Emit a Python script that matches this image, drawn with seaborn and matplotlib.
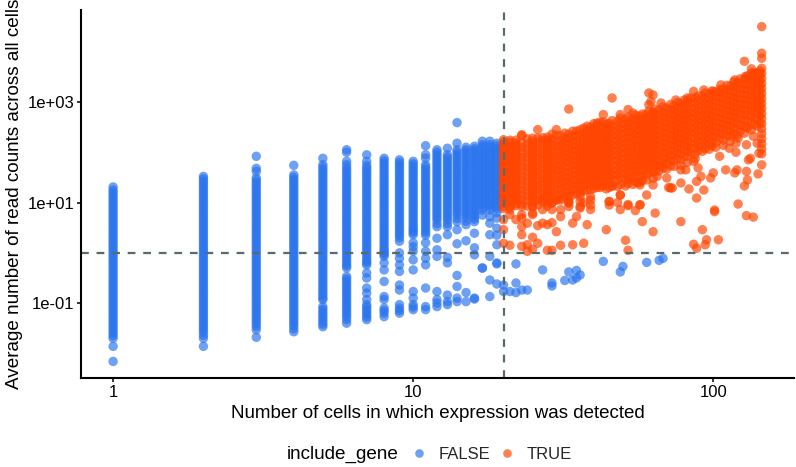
#!/usr/bin/env python3
"""Gene filtering scatter: detection count vs average read count."""

import matplotlib

matplotlib.use("Agg")
import matplotlib.pyplot as plt
import numpy as np
import pandas as pd
import seaborn as sns

# y values are log10(average counts)
false_1 = [1.31, 1.25, 1.2, 1.15, 1.1, 1.05, 1.0, .95, .9, .85, .8, .75, .7, .65, .6, .55, .5, .45, .4, .35, .3, .25, .2, .15, .1, .05, 0, -.05, -.1, -.15, -.2, -.25, -.3, -.35, -.4, -.45, -.5, -.55, -.6, -.65, -.7, -.75, -.8, -.85, -.9, -.95, -1.0, -1.05, -1.1, -1.15, -1.2, -1.25, -1.3, -1.35, -1.4, -1.45, -1.5, -1.55, -1.6, -1.65, -1.7, -1.86, -2.16]
false_2 = [1.52, 1.47, 1.42, 1.37, 1.32, 1.27, 1.22, 1.17, 1.12, 1.07, 1.02, .97, .92, .87, .82, .77, .72, .67, .62, .57, .52, .47, .42, .37, .32, .27, .22, .17, .12, .07, .02, -.03, -.08, -.13, -.18, -.23, -.28, -.33, -.38, -.43, -.48, -.53, -.58, -.63, -.68, -.73, -.78, -.83, -.88, -.93, -.98, -1.03, -1.08, -1.13, -1.18, -1.23, -1.28, -1.33, -1.38, -1.43, -1.48, -1.53, -1.58, -1.64, -1.7, -1.86]
false_3 = [1.92, 1.68, 1.62, 1.49, 1.44, 1.39, 1.34, 1.29, 1.24, 1.19, 1.14, 1.09, 1.04, .99, .94, .89, .84, .79, .74, .69, .64, .59, .54, .49, .44, .39, .34, .29, .24, .19, .14, .09, .04, -.01, -.06, -.11, -.16, -.21, -.26, -.31, -.36, -.41, -.46, -.51, -.56, -.61, -.66, -.71, -.76, -.81, -.86, -.91, -.96, -1.01, -1.06, -1.11, -1.16, -1.21, -1.26, -1.31, -1.36, -1.41, -1.47, -1.53, -1.68]
false_4 = [1.74, 1.55, 1.5, 1.45, 1.4, 1.35, 1.3, 1.25, 1.2, 1.15, 1.1, 1.05, 1.0, .95, .9, .85, .8, .75, .7, .65, .6, .55, .5, .45, .4, .35, .3, .25, .2, .15, .1, .05, 0, -.05, -.1, -.15, -.2, -.25, -.3, -.35, -.4, -.45, -.5, -.55, -.6, -.65, -.7, -.75, -.8, -.85, -.9, -.95, -1.0, -1.05, -1.1, -1.15, -1.2, -1.25, -1.3, -1.35, -1.4, -1.45, -1.51, -1.57]
false_5 = [1.88, 1.75, 1.7, 1.65, 1.6, 1.55, 1.5, 1.45, 1.4, 1.35, 1.3, 1.25, 1.2, 1.15, 1.1, 1.05, 1.0, .95, .9, .85, .8, .75, .7, .65, .6, .55, .5, .45, .4, .35, .3, .25, .2, .15, .1, .05, 0, -.05, -.1, -.15, -.2, -.25, -.3, -.35, -.4, -.45, -.5, -.55, -.6, -.65, -.7, -.75, -.8, -.85, -.9, -.93, -1.07, -1.12, -1.17, -1.22, -1.27, -1.32, -1.37, -1.42, -1.47]
false_6 = [2.05, 2.0, 1.82, 1.75, 1.69, 1.64, 1.59, 1.54, 1.49, 1.44, 1.39, 1.34, 1.29, 1.24, 1.19, 1.14, 1.09, 1.04, .99, .94, .89, .84, .79, .74, .69, .64, .59, .54, .49, .44, .39, .34, .29, .24, .19, .14, .09, .04, -.01, -.06, -.11, -.16, -.21, -.26, -.3, -.47, -.52, -.57, -.62, -.67, -.72, -.77, -.82, -.87, -.92, -.97, -1.02, -1.07, -1.12, -1.17, -1.22, -1.27, -1.33, -1.4]
false_7 = [1.95, 1.82, 1.74, 1.69, 1.64, 1.59, 1.54, 1.49, 1.44, 1.39, 1.34, 1.29, 1.24, 1.19, 1.14, 1.09, 1.04, .99, .94, .89, .84, .79, .74, .69, .64, .59, .54, .49, .44, .39, .34, .29, .24, .19, .14, .09, .04, -.01, -.06, -.11, -.16, -.2, -.24, -.4, -.5, -.7, -.8, -.93, -1.03, -1.08, -1.13, -1.18, -1.23, -1.28, -1.33]
false_8 = [1.88, 1.83, 1.78, 1.73, 1.68, 1.63, 1.58, 1.53, 1.48, 1.43, 1.38, 1.33, 1.28, 1.23, 1.18, 1.13, 1.08, 1.03, .98, .93, .88, .83, .78, .73, .68, .63, .58, .53, .48, .43, .38, .33, .28, .23, .18, .13, .08, .04, 0, -.03, -.07, -.2, -.34, -.57, -.87, -.93, -1.1, -1.15, -1.2, -1.27]
false_9 = [1.85, 1.8, 1.75, 1.7, 1.65, 1.6, 1.55, 1.5, 1.45, 1.4, 1.35, 1.3, 1.25, 1.2, 1.15, 1.1, 1.05, 1.0, .95, .9, .85, .8, .75, .7, .65, .6, .55, .5, .45, .4, .35, .3, .23, 0, -.11, -.24, -.37, -.64, -.74, -1.03, -1.1, -1.15, -1.2]
false_10 = [1.82, 1.77, 1.72, 1.67, 1.62, 1.57, 1.52, 1.47, 1.42, 1.37, 1.32, 1.27, 1.22, 1.17, 1.12, 1.07, 1.02, .97, .92, .87, .82, .77, .72, .67, .62, .57, .52, .48, .44, .4, .36, .2, .12, .03, -.14, -.34, -.77, -.9, -1.03, -1.08, -1.13]
false_11 = [2.13, 1.95, 1.88, 1.75, 1.7, 1.65, 1.6, 1.55, 1.5, 1.45, 1.4, 1.35, 1.3, 1.25, 1.2, 1.15, 1.1, 1.05, 1.0, .95, .9, .85, .8, .75, .7, .65, .6, .55, .5, .45, .4, .35, .2, .03, -.11, -.24, -.7, -1.07, -1.13]
false_12 = [2.05, 2.0, 1.95, 1.9, 1.85, 1.8, 1.75, 1.7, 1.65, 1.6, 1.55, 1.5, 1.45, 1.4, 1.35, 1.3, 1.25, 1.2, 1.15, 1.1, 1.05, 1.0, .95, .9, .85, .8, .75, .7, .65, .58, .52, .29, .06, -.07, -.77, -.93, -1.0, -1.07]
false_13 = [2.08, 1.95, 1.9, 1.85, 1.8, 1.75, 1.7, 1.65, 1.6, 1.55, 1.5, 1.45, 1.4, 1.35, 1.3, 1.25, 1.2, 1.15, 1.1, 1.05, 1.0, .95, .9, .85, .8, .75, .7, .65, .58, .52, .36, -.09, -.2, -.84, -.97, -1.03]
false_14 = [2.59, 2.18, 2.05, 2.0, 1.95, 1.9, 1.85, 1.8, 1.75, 1.7, 1.65, 1.6, 1.55, 1.5, 1.45, 1.4, 1.35, 1.3, 1.25, 1.2, 1.15, 1.1, 1.05, 1.0, .95, .9, .85, .8, .75, .68, .62, .46, .18, -.45, -.67, -.9, -.97]
false_15 = [2.1, 2.05, 2.0, 1.95, 1.9, 1.85, 1.8, 1.75, 1.7, 1.65, 1.6, 1.55, 1.5, 1.45, 1.4, 1.35, 1.3, 1.25, 1.2, 1.15, 1.1, 1.05, 1.0, .95, .9, .85, .8, .75, .7, .63, .56, .24, -.79, -.97]
false_16 = [2.12, 2.07, 2.02, 1.97, 1.92, 1.87, 1.82, 1.77, 1.72, 1.67, 1.62, 1.57, 1.52, 1.47, 1.42, 1.37, 1.32, 1.27, 1.22, 1.17, 1.12, 1.07, 1.02, .97, .92, .87, .82, .77, .72, .67, .62, .39, .1, -.04, -.9, -.92]
false_17 = [2.22, 2.15, 2.1, 2.05, 2.0, 1.95, 1.9, 1.85, 1.8, 1.75, 1.7, 1.65, 1.6, 1.55, 1.5, 1.45, 1.4, 1.35, 1.3, 1.25, 1.2, 1.15, 1.1, 1.05, 1.0, .95, .9, .85, .75, -.3, -.305]
false_18 = [2.22, 2.15, 2.1, 2.05, 2.0, 1.95, 1.9, 1.85, 1.8, 1.75, 1.7, 1.65, 1.6, 1.55, 1.5, 1.45, 1.4, 1.35, 1.3, 1.25, 1.2, 1.15, 1.1, 1.05, 1.0, .95, .9, .85, .72, .59, .36, -.07, -.54, -.87]
false_19 = [2.18, 2.13, 2.08, 2.03, 1.98, 1.93, 1.88, 1.83, 1.78, 1.73, 1.68, 1.63, 1.58, 1.53, 1.48, 1.43, 1.38, 1.33, 1.28, 1.23, 1.18, 1.13, 1.08, 1.03, .98, .93, .88, .8, .69, .49, .35, .16, -.2, -.22, -.62]
false_cols = [false_1, false_2, false_3, false_4, false_5, false_6, false_7, false_8, false_9, false_10, false_11, false_12, false_13, false_14, false_15, false_16, false_17, false_18, false_19]

# low-abundance genes detected in 20+ cells
false_low_x = [20, 20, 21, 22, 22, 22, 23, 24, 27, 29, 29, 32, 33, 34, 35, 35, 36, 43, 49, 50, 60, 66, 68]
false_low_y = [-.64, -.77, -.77, -.22, -.6, -.79, -.74, -.74, -.34, -.6, -.66, -.55, -.38, -.54, -.35, -.5, -.44, -.17, -.38, -.27, -.19, -.15, -.11]

# dense band of kept genes
true_x = [20, 21, 22, 23, 25, 26, 28, 29, 31, 33, 35, 37, 39, 41, 43, 45, 48, 51, 54, 57, 60, 63, 66, 70, 74, 78, 82, 87, 92, 97, 102, 108, 114, 120, 127, 134, 140, 145]
true_y = [
    [2.25, 2.16, 2.07, 1.98, 1.88, 1.8, 1.7, 1.62, 1.52, 1.43, 1.34, 1.25, 1.16, 1.07, .98, .88],
    [2.2, 2.1, 2.02, 1.92, 1.83, 1.74, 1.65, 1.55, 1.46, 1.37, 1.28, 1.18, 1.08, 1.0],
    [2.24, 2.14, 2.05, 1.96, 1.86, 1.76, 1.68, 1.58, 1.5, 1.4, 1.3, 1.21, 1.12, 1.03, .94],
    [2.33, 2.18, 2.1, 2.0, 1.9, 1.82, 1.72, 1.63, 1.53, 1.44, 1.35, 1.25, 1.16, 1.06, .97],
    [2.22, 2.12, 2.03, 1.94, 1.84, 1.75, 1.66, 1.56, 1.47, 1.38, 1.28, 1.19, 1.1, 1.0],
    [2.28, 2.19, 2.09, 2.0, 1.9, 1.81, 1.72, 1.62, 1.53, 1.43, 1.34, 1.25, 1.15, 1.05, .95],
    [2.3, 2.2, 2.11, 2.02, 1.93, 1.84, 1.74, 1.65, 1.55, 1.46, 1.37, 1.27, 1.18, 1.08, .98],
    [2.36, 2.26, 2.16, 2.07, 1.97, 1.88, 1.78, 1.68, 1.59, 1.49, 1.4, 1.3, 1.2, 1.1, 1.0],
    [2.33, 2.23, 2.14, 2.04, 1.95, 1.85, 1.75, 1.66, 1.56, 1.47, 1.38, 1.28, 1.18, 1.08],
    [2.36, 2.27, 2.17, 2.08, 1.98, 1.89, 1.8, 1.7, 1.6, 1.5, 1.41, 1.32, 1.22, 1.13],
    [2.42, 2.32, 2.23, 2.13, 2.03, 1.94, 1.84, 1.75, 1.65, 1.55, 1.46, 1.36, 1.27, 1.18],
    [2.48, 2.38, 2.28, 2.19, 2.09, 2.0, 1.9, 1.8, 1.71, 1.61, 1.52, 1.42, 1.33, 1.23],
    [2.5, 2.4, 2.31, 2.21, 2.12, 2.02, 1.92, 1.83, 1.73, 1.63, 1.54, 1.44, 1.35, 1.26],
    [2.54, 2.44, 2.35, 2.25, 2.15, 2.06, 1.96, 1.87, 1.77, 1.67, 1.58, 1.48, 1.39, 1.3],
    [2.6, 2.5, 2.4, 2.3, 2.2, 2.1, 2.0, 1.91, 1.81, 1.72, 1.62, 1.52, 1.43, 1.33],
    [2.58, 2.48, 2.39, 2.29, 2.19, 2.09, 2.0, 1.9, 1.8, 1.7, 1.61, 1.51, 1.42, 1.3],
    [2.62, 2.52, 2.42, 2.33, 2.23, 2.13, 2.03, 1.94, 1.84, 1.74, 1.64, 1.55, 1.45, 1.32],
    [2.66, 2.56, 2.47, 2.37, 2.27, 2.17, 2.08, 1.98, 1.88, 1.78, 1.68, 1.58, 1.46, 1.33],
    [2.67, 2.58, 2.48, 2.38, 2.28, 2.19, 2.09, 1.99, 1.89, 1.79, 1.7, 1.6, 1.5, 1.36],
    [2.72, 2.62, 2.53, 2.43, 2.33, 2.23, 2.13, 2.03, 1.93, 1.83, 1.73, 1.63, 1.53, 1.4],
    [2.76, 2.66, 2.56, 2.46, 2.36, 2.26, 2.16, 2.06, 1.96, 1.86, 1.76, 1.66, 1.56, 1.45],
    [2.8, 2.7, 2.6, 2.5, 2.4, 2.3, 2.2, 2.1, 2.0, 1.9, 1.8, 1.7, 1.6, 1.48],
    [2.84, 2.74, 2.64, 2.54, 2.44, 2.34, 2.24, 2.14, 2.04, 1.94, 1.84, 1.74, 1.63],
    [2.88, 2.78, 2.68, 2.58, 2.48, 2.38, 2.28, 2.18, 2.08, 1.98, 1.88, 1.78, 1.67],
    [2.93, 2.83, 2.73, 2.63, 2.53, 2.43, 2.33, 2.23, 2.13, 2.03, 1.93, 1.83, 1.72],
    [2.97, 2.87, 2.77, 2.67, 2.57, 2.47, 2.37, 2.27, 2.17, 2.07, 1.97, 1.85, 1.74],
    [3.02, 2.92, 2.82, 2.72, 2.62, 2.52, 2.42, 2.32, 2.22, 2.12, 2.02, 1.92, 1.8],
    [3.08, 2.98, 2.88, 2.78, 2.68, 2.58, 2.48, 2.38, 2.28, 2.18, 2.08, 1.96, 1.87],
    [3.12, 3.02, 2.92, 2.82, 2.72, 2.62, 2.52, 2.42, 2.32, 2.22, 2.12, 2.02],
    [3.16, 3.06, 2.96, 2.86, 2.76, 2.66, 2.56, 2.46, 2.36, 2.26, 2.16, 2.06],
    [3.2, 3.1, 3.0, 2.9, 2.8, 2.7, 2.6, 2.5, 2.4, 2.3, 2.2, 2.1],
    [3.26, 3.16, 3.06, 2.96, 2.86, 2.76, 2.66, 2.56, 2.46, 2.36, 2.24, 2.14],
    [3.32, 3.22, 3.12, 3.02, 2.92, 2.82, 2.72, 2.62, 2.52, 2.42, 2.32],
    [3.38, 3.28, 3.18, 3.08, 2.98, 2.88, 2.78, 2.68, 2.58, 2.46, 2.34],
    [3.45, 3.35, 3.25, 3.15, 3.05, 2.95, 2.85, 2.75, 2.65, 2.52, 2.38],
    [3.52, 3.42, 3.32, 3.22, 3.12, 3.02, 2.92, 2.82, 2.72, 2.6, 2.45],
    [3.58, 3.48, 3.38, 3.28, 3.18, 3.08, 2.98, 2.88, 2.78, 2.66, 2.52],
    [3.67, 3.57, 3.47, 3.37, 3.27, 3.17, 3.07, 2.97, 2.87, 2.77, 2.67, 2.57, 2.47, 2.37, 2.27, 2.17, 2.07, 1.97],
]

# more kept genes between those columns, filling the band
true_x2 = [20, 21, 22, 24, 25, 27, 28, 30, 32, 34, 36, 38, 40, 42, 44, 46, 49, 52, 55, 58, 61, 64, 68, 72, 76, 80, 84, 89, 94, 99, 105, 111, 117, 123, 130, 137, 143]
true_y2 = [
    [2.2, 2.11, 2.02, 1.93, 1.84, 1.75, 1.66, 1.57, 1.48, 1.38, 1.29, 1.2, 1.11, 1.02],
    [2.24, 2.15, 2.06, 1.97, 1.87, 1.78, 1.69, 1.6, 1.5, 1.41, 1.32, 1.23, 1.13, 1.04, .92],
    [2.19, 2.09, 2.0, 1.91, 1.81, 1.72, 1.63, 1.54, 1.45, 1.35, 1.26, 1.16, 1.07, .98],
    [2.27, 2.17, 2.07, 1.98, 1.89, 1.79, 1.7, 1.61, 1.51, 1.42, 1.32, 1.23, 1.13, 1.04, .93],
    [2.28, 2.17, 2.08, 1.98, 1.89, 1.8, 1.7, 1.61, 1.52, 1.42, 1.33, 1.23, 1.14, 1.05, .92],
    [2.29, 2.23, 2.14, 2.05, 1.95, 1.86, 1.76, 1.67, 1.57, 1.48, 1.39, 1.29, 1.2, 1.1, 1.01],
    [2.25, 2.15, 2.06, 1.97, 1.88, 1.79, 1.69, 1.6, 1.5, 1.41, 1.32, 1.22, 1.13, 1.03, .93],
    [2.34, 2.21, 2.12, 2.02, 1.92, 1.83, 1.73, 1.64, 1.54, 1.44, 1.35, 1.25, 1.15, 1.05],
    [2.38, 2.28, 2.19, 2.09, 2.0, 1.9, 1.81, 1.71, 1.61, 1.52, 1.42, 1.33, 1.23, 1.13],
    [2.42, 2.32, 2.22, 2.13, 2.03, 1.93, 1.84, 1.74, 1.65, 1.55, 1.45, 1.36, 1.26, 1.15],
    [2.45, 2.35, 2.26, 2.16, 2.06, 1.96, 1.87, 1.77, 1.67, 1.58, 1.48, 1.38, 1.29, 1.18],
    [2.52, 2.43, 2.33, 2.23, 2.14, 2.04, 1.94, 1.85, 1.75, 1.65, 1.56, 1.46, 1.37, 1.25],
    [2.57, 2.46, 2.36, 2.26, 2.17, 2.07, 1.97, 1.88, 1.78, 1.68, 1.59, 1.49, 1.39, 1.28],
    [2.6, 2.49, 2.39, 2.3, 2.2, 2.1, 2.0, 1.91, 1.81, 1.71, 1.62, 1.52, 1.42, 1.3],
    [2.56, 2.45, 2.35, 2.25, 2.15, 2.05, 1.95, 1.86, 1.76, 1.67, 1.57, 1.47, 1.38, 1.27],
    [2.63, 2.53, 2.43, 2.34, 2.24, 2.14, 2.04, 1.94, 1.85, 1.75, 1.65, 1.55, 1.46, 1.34],
    [2.68, 2.57, 2.47, 2.37, 2.27, 2.18, 2.08, 1.98, 1.88, 1.78, 1.69, 1.59, 1.49, 1.36],
    [2.7, 2.61, 2.51, 2.41, 2.31, 2.21, 2.11, 2.01, 1.92, 1.82, 1.72, 1.62, 1.52, 1.38],
    [2.74, 2.64, 2.54, 2.44, 2.34, 2.24, 2.14, 2.04, 1.94, 1.85, 1.75, 1.65, 1.55, 1.42],
    [2.76, 2.67, 2.57, 2.47, 2.37, 2.27, 2.17, 2.07, 1.97, 1.87, 1.77, 1.67, 1.55, 1.44],
    [2.82, 2.71, 2.61, 2.51, 2.41, 2.31, 2.21, 2.11, 2.01, 1.91, 1.81, 1.71, 1.59],
    [2.86, 2.75, 2.65, 2.55, 2.45, 2.35, 2.25, 2.15, 2.05, 1.95, 1.85, 1.75, 1.62],
    [2.9, 2.8, 2.7, 2.6, 2.5, 2.4, 2.3, 2.2, 2.1, 2.0, 1.9, 1.79, 1.68],
    [2.95, 2.85, 2.75, 2.65, 2.55, 2.45, 2.35, 2.25, 2.15, 2.05, 1.95, 1.84, 1.73],
    [2.99, 2.89, 2.79, 2.69, 2.59, 2.49, 2.39, 2.29, 2.19, 2.09, 1.99, 1.88],
    [3.04, 2.94, 2.84, 2.74, 2.64, 2.54, 2.44, 2.34, 2.24, 2.14, 2.04, 1.92],
    [3.08, 2.98, 2.88, 2.78, 2.68, 2.58, 2.48, 2.38, 2.28, 2.18, 2.08, 1.98],
    [3.12, 3.03, 2.93, 2.83, 2.73, 2.63, 2.53, 2.43, 2.33, 2.23, 2.13, 2.03],
    [3.18, 3.07, 2.97, 2.87, 2.77, 2.67, 2.57, 2.47, 2.37, 2.27, 2.17, 2.07],
    [3.22, 3.12, 3.02, 2.92, 2.82, 2.72, 2.62, 2.52, 2.42, 2.32, 2.22, 2.12],
    [3.25, 3.18, 3.08, 2.98, 2.88, 2.78, 2.68, 2.58, 2.48, 2.38, 2.28],
    [3.33, 3.23, 3.13, 3.03, 2.93, 2.83, 2.73, 2.63, 2.53, 2.43, 2.33],
    [3.4, 3.3, 3.2, 3.1, 3.0, 2.9, 2.8, 2.7, 2.6, 2.48, 2.36],
    [3.46, 3.36, 3.26, 3.16, 3.06, 2.96, 2.86, 2.76, 2.66, 2.54, 2.42],
    [3.52, 3.44, 3.34, 3.24, 3.14, 3.04, 2.94, 2.84, 2.74, 2.62, 2.48],
    [3.58, 3.5, 3.4, 3.3, 3.2, 3.1, 3.0, 2.9, 2.8, 2.68, 2.55],
    [3.62, 3.54, 3.44, 3.34, 3.24, 3.14, 3.04, 2.94, 2.84, 2.72, 2.58],
]

# isolated kept genes outside the band
true_out_x = [33, 46, 43, 26, 61, 63, 62, 61, 86, 93, 106, 127, 134, 145, 145, 145, 52, 54, 67, 75,
              133, 131, 145, 141, 129, 120, 118, 130, 127, 121, 110, 100, 98, 89, 91, 88, 93, 83, 88, 78, 71, 72, 129, 119, 101,
              101, 129, 136, 78, 64, 58, 63, 55, 57, 52, 49, 49, 45, 45, 48, 44, 51, 52, 92, 95, 94, 86, 88, 104,
              38, 34, 35, 36, 39, 37, 39, 30, 37, 34, 31, 26, 25, 23, 23, 23, 21, 23, 24, 24, 25, 28, 29,
              31, 29, 28, 27, 26, 24, 22, 20, 20, 20, 21, 25, 27, 29, 33, 36]
true_out_y = [2.86, 3.08, 2.75, 2.45, 3.18, 3.14, 3.01, 2.95, 3.21, 3.24, 3.34, 3.81, 3.66, 4.5, 3.97, 3.87, 2.85, 2.78, 2.98, 3.04,
              1.88, 1.85, 1.75, 1.57, 1.62, 1.65, 1.59, 1.45, 1.33, .97, 1.65, 1.59, 1.49, 1.69, 1.52, 1.42, 1.25, 1.27, 1.09, 1.39, 1.3, 1.29, 2.15, 2.0, .85,
              .82, .74, .71, .62, .79, .62, .42, .84, .95, .94, .86, 1.15, 1.02, .95, 1.0, .46, .25, .05, .46, .26, .16, .17, .09, .26,
              .56, .59, .72, .89, .86, 1.0, .95, .42, .19, .16, .15, .19, .31, .36, .52, .69, .15, .13, .16, .03, .07, .05, .05,
              .72, .6, .56, .59, .54, .59, .66, .46, .19, .66, .76, .79, .86, .86, 1.0, 1.12]

# genes along the rough edges of the band
true_edge_x = [70, 73, 63, 60, 57, 56, 52, 49, 46, 44, 41, 39, 36, 33, 30, 28, 52, 57, 45, 65, 67, 78, 81, 86, 105, 113, 114, 119, 121, 129, 136, 140, 142,
               23, 30, 41, 49, 63, 82, 100, 118, 128, 134,
               20, 21, 23, 25, 27, 29, 31, 33, 36, 39, 31, 23, 25, 21, 22, 33, 36]
true_edge_y = [1.49, 1.29, 1.35, 1.15, 1.35, 1.39, 1.45, 1.15, 1.32, 1.35, 1.35, 1.12, 1.32, .99, 1.05, 1.09, .96, .96, 1.02, 1.52, 1.72, 1.65, 1.65, 1.82, 1.92, 2.08, 2.22, 2.18, 2.28, 2.51, 2.32, 2.18, 1.98,
               2.35, 2.45, 2.58, 2.75, 2.78, 3.08, 3.21, 3.44, 3.51, 3.58,
               .92, .92, .92, .92, 1.05, .99, 1.05, .92, .92, 1.05, .86, .76, .76, .86, 1.05, 1.05, 1.02]

threshold_cells = 20
threshold_counts = 1

x_false, y_false = [], []
for cells, col in enumerate(false_cols, start=1):
    x_false += [cells] * len(col)
    y_false += col
x_false += false_low_x
y_false += false_low_y

x_true, y_true = [], []
for cells, col in zip(true_x + true_x2, true_y + true_y2):
    x_true += [cells] * len(col)
    y_true += col
x_true += true_out_x + true_edge_x
y_true += true_out_y + true_edge_y

df = pd.DataFrame({
    "cells": x_false + x_true,
    "avg_counts": 10.0 ** np.array(y_false + y_true),
    "include_gene": ["FALSE"] * len(x_false) + ["TRUE"] * len(x_true),
})

sns.set_theme(style="ticks")
plt.rcParams["font.family"] = ["Liberation Sans", "DejaVu Sans"]

fig = plt.figure(figsize=(7.96, 4.67), dpi=100)
ax = fig.add_axes([81 / 796, 1 - 378 / 467, (794 - 81) / 796, (378 - 10) / 467])

sns.scatterplot(
    data=df, x="cells", y="avg_counts", hue="include_gene",
    hue_order=["FALSE", "TRUE"], palette=["#2a74ee", "#ff4500"],
    s=46, alpha=0.68, linewidth=0, ax=ax,
)
ax.set_xscale("log")
ax.set_yscale("log")
ax.set_xlim(10 ** -0.107, 10 ** 2.269)
ax.set_ylim(10 ** -2.49, 10 ** 4.83)

ax.axvline(threshold_cells, color="#5a6a6c", lw=1.6, ls=(0, (3.5, 3.5)))
ax.axhline(threshold_counts, color="#5a6a6c", lw=1.6, ls=(0, (3.5, 3.5)))

ax.set_xticks([1, 10, 100])
ax.set_xticklabels(["1", "10", "100"])
ax.set_yticks([0.1, 10, 1000])
ax.set_yticklabels(["1e-01", "1e+01", "1e+03"])
ax.minorticks_off()
ax.tick_params(labelsize=12, length=3, width=1.1, color="black", labelcolor="black", pad=2)
ax.set_xlabel("Number of cells in which expression was detected", fontsize=13.5, color="black", labelpad=4)
ax.set_ylabel("Average number of read counts across all cells", fontsize=13.6, color="black", labelpad=3)
for side in ["left", "bottom"]:
    ax.spines[side].set_linewidth(1.5)
    ax.spines[side].set_color("black")
sns.despine(ax=ax)

sns.move_legend(
    ax, "center", bbox_to_anchor=(488 / 796, 1 - 454.5 / 467),
    bbox_transform=fig.transFigure, ncol=2, title=None, frameon=False,
    fontsize=12, columnspacing=0.1, handletextpad=0.3, handlelength=1.8,
)
for handle in ax.get_legend().legend_handles:
    handle.set_markersize(6.2)
    handle.set_alpha(0.68)
fig.text(287 / 796, 1 - 454 / 467, "include_gene", fontsize=13.6, color="black", va="center")

fig.savefig("out.png", dpi=100)
